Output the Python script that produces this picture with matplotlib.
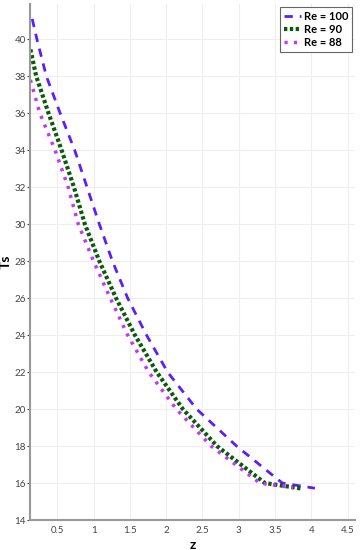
import matplotlib
matplotlib.use("Agg")
import matplotlib.pyplot as plt

# values
z_100 = [0.155, 0.22, 0.35, 0.54, 0.74, 0.91, 1.08, 1.26, 1.47, 1.73, 2.02, 2.42, 2.97, 3.6, 4.05]
ts_100 = [41.1, 40, 38, 36, 34, 32, 30, 28, 26, 24, 22, 20, 18, 16, 15.72]

z_90 = [0.13, 0.21, 0.38, 0.56, 0.73, 0.88, 1.08, 1.31, 1.57, 1.87, 2.23, 2.7, 3.36, 3.87]
ts_90 = [39.45, 38, 36, 34, 32, 30, 28, 26, 24, 22, 20, 18, 16, 15.7]

z_88 = [0.13, 0.26, 0.47, 0.65, 0.79, 1.0, 1.23, 1.47, 1.76, 2.14, 2.62, 3.29, 3.75]
ts_88 = [37.8, 36, 34, 32, 30, 28, 26, 24, 22, 20, 18, 16, 15.75]

x_ticks = [0.5, 1, 1.5, 2, 2.5, 3, 3.5, 4, 4.5]
x_labels = ['0.5', '1', '1.5', '2', '2.5', '3', '3.5', '4', '4.5']
y_ticks = list(range(14, 41, 2))

plt.rcParams['font.family'] = ['Lato', 'DejaVu Sans']

fig = plt.figure(figsize=(3.61, 5.5), dpi=100)
ax = fig.add_axes([0.083, 0.0545, 0.9, 0.938])

ax.plot(z_100, ts_100, color='#5a1eff', lw=2, dashes=(3, 2.5), label='Re = 100')
ax.plot(z_90, ts_90, color='#0b5a0b', lw=3, dashes=(0.8, 0.6), label='Re = 90')
ax.plot(z_88, ts_88, color='#c433ff', lw=2.5, dashes=(0.9, 1.8), label='Re = 88')

ax.set_xlim(0.124, 4.6)
ax.set_ylim(14, 41.9)
ax.set_xticks(x_ticks)
ax.set_xticklabels(x_labels)
ax.set_yticks(y_ticks)
ax.tick_params(labelsize=7, colors='#444444', length=2, width=0.8, pad=1)
ax.tick_params(axis='x', length=0, pad=4)

ax.grid(True, color='#eeeeee', lw=0.8)
for s in ['top', 'right']:
    ax.spines[s].set_visible(False)
for s in ['left', 'bottom']:
    ax.spines[s].set_color('#999999')
    ax.spines[s].set_linewidth(1.5)

ax.set_xlabel('z', fontsize=10, fontweight='bold', labelpad=3)
ax.set_ylabel('Ts', fontsize=10, fontweight='bold', labelpad=2)

leg = ax.legend(loc='upper right', fontsize=8, handlelength=1.6, handletextpad=0.2,
                borderpad=0.3, labelspacing=0.2, fancybox=False, framealpha=1,
                borderaxespad=0.3)
leg.get_frame().set_edgecolor('#666666')
leg.get_frame().set_linewidth(0.8)
for t in leg.get_texts():
    t.set_fontweight('bold')

fig.savefig('out.png', dpi=100)
